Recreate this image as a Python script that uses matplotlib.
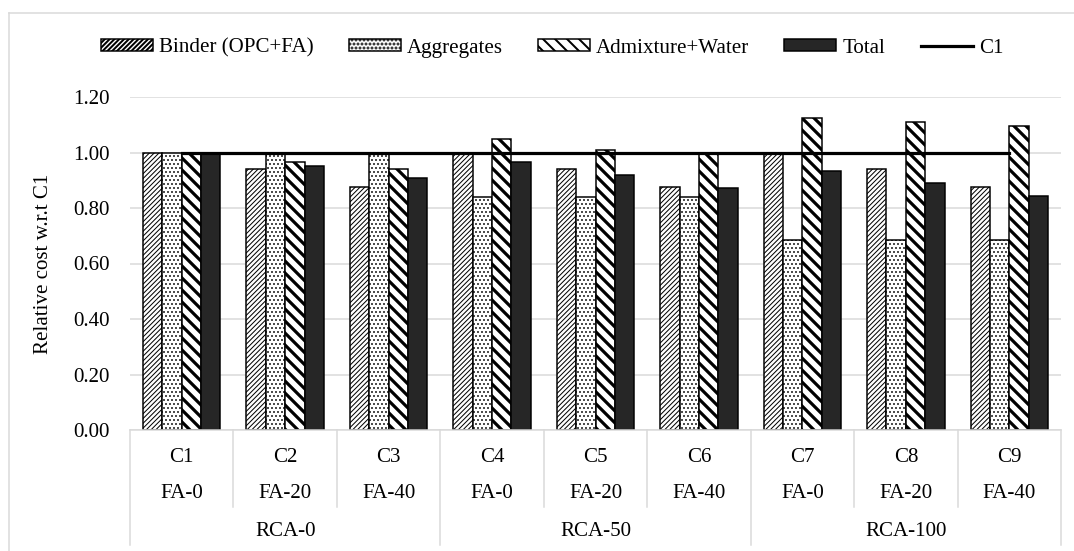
import numpy as np
import matplotlib
matplotlib.use('Agg')
import matplotlib.pyplot as plt
from matplotlib.lines import Line2D

# Relative cost of each mix w.r.t. C1
mixes = ['C1', 'C2', 'C3', 'C4', 'C5', 'C6', 'C7', 'C8', 'C9']
fa_levels = ['FA-0', 'FA-20', 'FA-40', 'FA-0', 'FA-20', 'FA-40', 'FA-0', 'FA-20', 'FA-40']
rca_groups = ['RCA-0', 'RCA-50', 'RCA-100']

binder = [1.00, 0.94, 0.875, 1.00, 0.94, 0.875, 1.00, 0.94, 0.875]
aggregates = [1.00, 1.00, 1.00, 0.84, 0.84, 0.84, 0.685, 0.685, 0.685]
admixture = [1.00, 0.965, 0.94, 1.05, 1.01, 1.00, 1.125, 1.11, 1.095]
total = [1.00, 0.953, 0.907, 0.965, 0.92, 0.873, 0.932, 0.889, 0.842]
c1_line = [1.00, 1.00, 1.00, 1.00, 1.00, 1.00, 1.00, 1.00, 1.00]

W, H, DPI = 1074, 551, 144
plt.rcParams['font.family'] = ['Liberation Serif', 'DejaVu Serif']
plt.rcParams['font.size'] = 10.5
plt.rcParams['hatch.color'] = 'black'

fig = plt.figure(figsize=(W / DPI, H / DPI), dpi=DPI)
ax = fig.add_axes([130 / W, (H - 430) / H, 931 / W, 333 / H])

x = np.arange(len(mixes))
bw = 0.187
grid_c = '#d9d9d9'

def hbar(xs, vals, hatch, hlw, fc='white'):
    with plt.rc_context({'hatch.linewidth': hlw}):
        bars = ax.bar(xs, vals, bw, color=fc, edgecolor='black', linewidth=0.75,
                      hatch=hatch, zorder=2)
    for b in bars:
        if hasattr(b, 'set_hatch_linewidth'):
            b.set_hatch_linewidth(hlw)
    return bars

b1 = hbar(x - 1.5 * bw, binder, '/' * 10, 0.5)
b2 = hbar(x - 0.5 * bw, aggregates, '.' * 6, 0.5)
b3 = hbar(x + 0.5 * bw, admixture, '\\' * 4, 1.6)
b4 = ax.bar(x + 1.5 * bw, total, bw, color='#262626', edgecolor='black',
            linewidth=0.75, zorder=2)
ln, = ax.plot(x, c1_line, color='black', lw=1.6, zorder=3)

ax.set_xlim(-0.5, len(mixes) - 0.5)
ax.set_ylim(0, 1.2)
ax.set_yticks(np.arange(0, 1.21, 0.2))
ax.set_yticklabels(['{:.2f}'.format(v) for v in np.arange(0, 1.21, 0.2)])
ax.tick_params(axis='y', length=0, pad=10, labelcolor='black')
ax.set_xticks([])
ax.grid(axis='y', color=grid_c, lw=0.75, zorder=0)
ax.set_axisbelow(True)
for s in ['top', 'right', 'left']:
    ax.spines[s].set_visible(False)
ax.spines['bottom'].set_color(grid_c)
ax.spines['bottom'].set_linewidth(0.75)
ax.set_ylabel('Relative cost w.r.t C1')
ax.yaxis.set_label_coords((53 - 130) / 931, 0.5)

# multi-level category axis
tr = ax.get_xaxis_transform()
ph = 333.0
for i in range(len(mixes)):
    ax.text(x[i], -(457 - 430) / ph, mixes[i], transform=tr, ha='center', va='center')
    ax.text(x[i], -(494 - 430) / ph, fa_levels[i], transform=tr, ha='center', va='center')
for k in range(len(mixes) + 1):
    xb = k - 0.5
    y2 = -(545 - 430) / ph if k % 3 == 0 else -(507 - 430) / ph
    ax.plot([xb, xb], [0, y2], transform=tr, color=grid_c, lw=0.75, clip_on=False)
for g in range(len(rca_groups)):
    ax.text(3 * g + 1, -(532 - 430) / ph, rca_groups[g], transform=tr,
            ha='center', va='center')

# chart frame (left and top edges visible)
fig.add_artist(Line2D([8.5 / W, 8.5 / W], [0, 1 - 13 / H], color=grid_c, lw=0.75))
fig.add_artist(Line2D([8.5 / W, 1], [1 - 13 / H, 1 - 13 / H], color=grid_c, lw=0.75))

fig.legend([b1, b2, b3, b4, ln],
           ['Binder (OPC+FA)', 'Aggregates', 'Admixture+Water', 'Total', 'C1'],
           loc='center', bbox_to_anchor=(552 / W, 1 - 48 / H), ncol=5, frameon=False,
           prop={'family': 'Liberation Serif', 'size': 10.5},
           handlelength=2.48, handleheight=0.5, handletextpad=0.29,
           columnspacing=1.67, borderaxespad=0, borderpad=0)

fig.savefig('out.png', dpi=DPI)
